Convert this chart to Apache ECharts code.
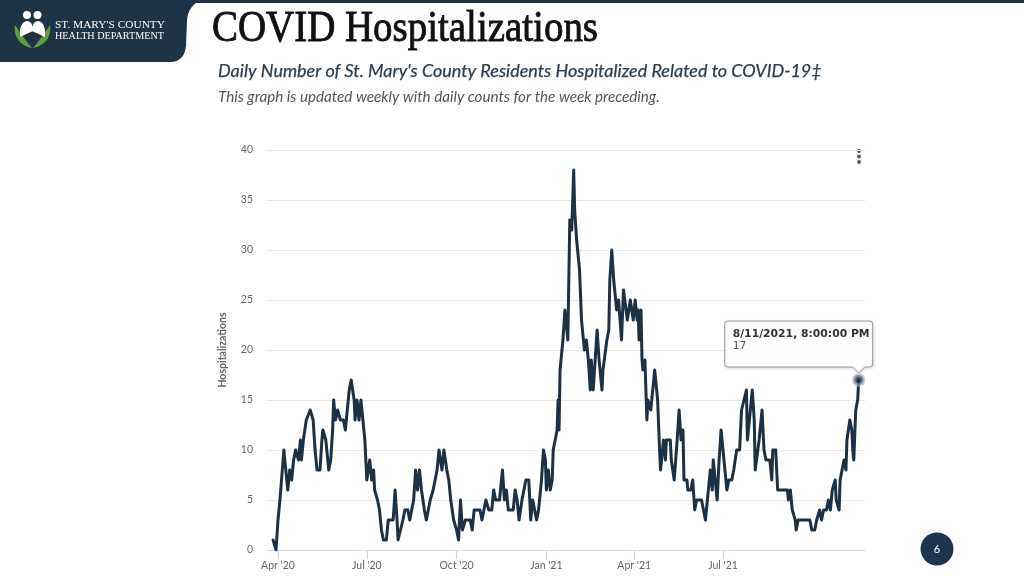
<!DOCTYPE html>
<html><head><meta charset="utf-8">
<script src="https://cdn.jsdelivr.net/npm/echarts@6/dist/echarts.min.js"></script>
<style>html,body{margin:0;padding:0;background:#fff;}#c{width:1024px;height:576px;}</style>
</head><body><div id="c"></div>
<script>
// Days (as placed on the axis, counted from the "Apr '20" tick) and daily hospitalizations
const dayOffsets = [
  -5,-3,-2,0,2,3,6,10,12,14,
  16,18,21,23,24,26,29,31,33,36,
  38,40,43,45,46,49,52,54,56,57,
  59,61,64,67,69,71,73,75,77,78,
  79,81,83,85,87,89,91,94,96,98,
  99,102,104,106,108,111,113,118,120,122,
  123,125,128,130,133,135,137,139,141,143,
  145,147,150,152,156,159,161,163,165,168,
  170,173,175,177,180,183,185,187,189,192,
  197,199,201,207,209,211,213,216,219,221,
  223,227,228,230,232,234,236,241,243,245,
  247,250,252,254,257,259,261,263,265,267,
  270,272,274,275,277,279,281,282,284,286,
  287,288,289,291,292,294,296,297,299,301,
  303,304,306,309,310,311,314,316,318,320,
  321,323,325,327,329,332,333,335,337,339,
  340,342,344,345,347,349,352,354,356,358,
  361,362,364,366,368,369,370,372,373,374,
  376,378,379,382,384,386,389,391,392,395,
  397,398,402,403,406,409,411,413,415,416,
  419,420,423,425,427,429,434,436,438,441,
  443,445,446,448,450,452,454,456,458,460,
  462,465,467,470,473,475,477,480,481,484,
  486,488,489,491,493,496,498,500,504,506,
  507,510,512,522,523,525,527,530,531,533,
  545,547,550,552,555,557,559,562,564,566,
  568,571,572,575,576,578,580,582,583,586,
  588,589,590,592,594,595
];
const hospitalizations = [
  1,1,0,3,5,5,10,6,8,7,
  9,10,9,11,9,11,13,13,14,13,
  10,8,8,11,12,11,8,9,12,15,
  13,14,13,13,12,14,16,17,17,15,
  13,15,13,15,15,11,7,9,7,8,
  6,5,4,2,1,1,3,3,6,3,
  1,1,3,4,4,3,4,5,8,6,
  8,6,4,3,5,6,6,8,10,8,
  10,8,7,5,3,2,1,5,2,3,
  3,2,4,4,3,4,5,4,4,6,
  5,5,6,8,5,6,4,4,6,5,
  3,5,6,7,7,3,5,5,3,4,
  7,10,9,6,8,6,7,10,11,12,
  15,12,18,20,21,24,22,21,33,32,
  38,34,31,28,28,23,20,21,19,16,
  19,16,19,22,19,16,18,18,21,22,
  27,30,27,26,24,25,21,26,26,23,
  25,25,23,25,23,24,21,24,19,18,
  19,13,15,14,16,18,15,10,8,11,
  9,11,11,9,7,11,14,11,12,7,
  7,6,6,7,4,5,5,4,3,6,
  8,6,9,7,5,9,12,10,8,6,
  7,7,8,10,10,14,14,16,11,14,
  16,13,8,8,11,14,10,9,9,7,
  10,10,6,6,5,6,4,3,2,3,
  3,2,2,3,4,3,4,4,5,4,
  6,7,5,4,7,8,9,8,11,13,
  12,10,9,14,15,17
];
const tickDays = [0, 91, 183, 275, 365, 456];
const tickLabels = ["Apr '20", "Jul '20", "Oct '20", "Jan '21", "Apr '21", "Jul '21"];
const tooltipDate = '8/11/2021, 8:00:00 PM';
const pageTitle = 'COVID Hospitalizations';
const chartTitle = "Daily Number of St. Mary's County Residents Hospitalized Related to COVID-19\u2021";
const chartSubtitle = 'This graph is updated weekly with daily counts for the week preceding.';
const orgLine1 = "ST. MARY'S COUNTY";
const orgLine2 = 'HEALTH DEPARTMENT';
const pageNumber = '6';

const seriesData = dayOffsets.map((d, i) => [d, hospitalizations[i]]);
const lastPoint = seriesData[seriesData.length - 1];

const navy = '#1e3346';
const lineColor = '#1c3144';

const mctx = document.createElement('canvas').getContext('2d');
function measure(text, font) { mctx.font = font; return mctx.measureText(text).width; }

const chart = echarts.init(document.getElementById('c'), null, { renderer: 'canvas' });

const titleFont = '45px "Liberation Serif"';
const titleScale = 386 / measure(pageTitle, titleFont);
const s1 = 20 * 604 / measure(chartTitle, 'italic 20px Lato');
const s2 = 20 * 442 / measure(chartSubtitle, 'italic 20px Lato');
const o1 = 110 / measure(orgLine1, '11px "Liberation Serif"');
const o2 = 109 / measure(orgLine2, '9.5px "Liberation Serif"');

const headerGraphics = [
  { type: 'rect', shape: { x: 0, y: 0, width: 1024, height: 3 }, style: { fill: navy }, silent: true },
  { type: 'circle', shape: { cx: 27, cy: 15, r: 4 }, style: { fill: '#fff' }, z: 10 },
  { type: 'circle', shape: { cx: 37.5, cy: 15, r: 4 }, style: { fill: '#fff' }, z: 10 },
  { type: 'text', z: 10, x: 55, y: 25, scaleX: o1, style: { text: orgLine1, font: '11px "Liberation Serif"', fill: '#fff', verticalAlign: 'middle' } },
  { type: 'text', z: 10, x: 55, y: 36.5, scaleX: o2, style: { text: orgLine2, font: '9.5px "Liberation Serif"', fill: '#fff', verticalAlign: 'middle' } },
  { type: 'text', x: 212, y: 29, scaleX: titleScale, style: { text: pageTitle, font: titleFont, fill: '#111', stroke: '#111', lineWidth: 0.9, verticalAlign: 'middle' } },
  { type: 'text', x: 218, y: 71, style: { text: chartTitle, font: 'italic ' + s1.toFixed(2) + 'px Lato', fill: '#2b3d50', stroke: '#2b3d50', lineWidth: 0.25, verticalAlign: 'middle' } },
  { type: 'text', x: 218, y: 97, style: { text: chartSubtitle, font: 'italic ' + s2.toFixed(2) + 'px Lato', fill: '#555', verticalAlign: 'middle' } },
  { type: 'circle', shape: { cx: 859, cy: 151, r: 1.9 }, style: { fill: '#555' } },
  { type: 'circle', shape: { cx: 859, cy: 156.5, r: 1.9 }, style: { fill: '#555' } },
  { type: 'circle', shape: { cx: 859, cy: 162, r: 1.9 }, style: { fill: '#555' } },
  { type: 'circle', shape: { cx: 937, cy: 549, r: 16.5 }, style: { fill: '#1d3550' } },
  { type: 'text', x: 937, y: 549, style: { text: pageNumber, font: '11px Lato', fill: '#fff', align: 'center', verticalAlign: 'middle' } }
];

const option = {
  animation: false,
  backgroundColor: '#fff',
  grid: { left: 267, right: 159, top: 150, bottom: 26 },
  xAxis: {
    type: 'value', min: -11.27, max: 601.5,
    axisLine: { show: true, lineStyle: { color: '#ccd6eb', width: 1 } },
    axisTick: { show: true, customValues: tickDays, length: 9, lineStyle: { color: '#ccd6eb' } },
    axisLabel: {
      customValues: tickDays, margin: 10, color: '#666', fontSize: 10.5, fontFamily: 'Lato',
      formatter: v => { const i = tickDays.indexOf(v); return i >= 0 ? tickLabels[i] : ''; }
    },
    splitLine: { show: false }
  },
  yAxis: {
    type: 'value', min: 0, max: 40, interval: 5,
    name: 'Hospitalizations', nameLocation: 'middle', nameGap: 39, nameRotate: 90,
    nameTextStyle: { color: '#666', fontSize: 10.5, fontWeight: 'bold', fontFamily: 'Lato' },
    axisLine: { show: false }, axisTick: { show: false },
    axisLabel: { color: '#666', fontSize: 10.5, fontFamily: 'Lato', margin: 14 },
    splitLine: { lineStyle: { color: '#e6e6e6', width: 1 } }
  },
  series: [
    {
      type: 'line', data: seriesData, symbol: 'none', smooth: false,
      lineStyle: { color: lineColor, width: 3, join: 'round', cap: 'round' },
      itemStyle: { color: lineColor }, silent: true
    },
    {
      type: 'scatter', data: [lastPoint], symbolSize: 10, z: 5,
      itemStyle: { color: lineColor, borderColor: 'rgba(170,178,188,0.75)', borderWidth: 3.5 }, silent: true
    }
  ],
  graphic: headerGraphics
};
chart.setOption(option);

const zr = chart.getZr();
function addPath(d, style, z) {
  const el = echarts.graphic.makePath(d, { style: style, silent: true });
  el.z = z || 0;
  el.zlevel = 0;
  zr.add(el);
  return el;
}
// banner and logo
addPath('M0,0 L202,0 C193,3 188,10 187,20 L186,46 C185,56 180,62 170,62 L0,62 Z', { fill: navy }, 1);
addPath('M15,25 C13,36 20,46 32,48 C27,42 21,34 15,25 Z', { fill: '#5e9e3e' }, 2);
addPath('M50,25 C52,36 45,46 33,48 C38,42 44,34 50,25 Z', { fill: '#5e9e3e' }, 2);
addPath('M20,37 Q19,22 27,21 Q33,21 33,31 Q28,33 20,37 Z', { fill: '#fff' }, 2);
addPath('M45,37 Q46,22 38,21 Q32,21 32,31 Q37,33 45,37 Z', { fill: '#fff' }, 2);

// tooltip callout anchored to the last data point
const p = chart.convertToPixel({ xAxisIndex: 0, yAxisIndex: 0 }, lastPoint);
const bx = p[0] - 134, by = p[1] - 59, bw = 148, bh = 46, r = 3;
const ax = p[0], ay = p[1] - 7;
const pathData = `M${bx + r},${by} L${bx + bw - r},${by} Q${bx + bw},${by} ${bx + bw},${by + r} L${bx + bw},${by + bh - r} Q${bx + bw},${by + bh} ${bx + bw - r},${by + bh} L${ax + 6},${by + bh} L${ax},${ay} L${ax - 6},${by + bh} L${bx + r},${by + bh} Q${bx},${by + bh} ${bx},${by + bh - r} L${bx},${by + r} Q${bx},${by} ${bx + r},${by} Z`;
addPath(pathData, { fill: 'rgba(255,255,255,0.96)', stroke: '#9a9a9a', lineWidth: 1, shadowBlur: 3, shadowColor: 'rgba(0,0,0,0.15)', shadowOffsetX: 1, shadowOffsetY: 1 }, 100);
const t1 = new echarts.graphic.Text({ x: bx + 8, y: by + 13, z: 101, silent: true, style: { text: tooltipDate, font: 'bold 10.8px "DejaVu Sans"', fill: '#333', verticalAlign: 'middle' } });
const t2 = new echarts.graphic.Text({ x: bx + 8, y: by + 25, z: 101, silent: true, style: { text: String(lastPoint[1]), font: '10.8px "DejaVu Sans"', fill: '#555', verticalAlign: 'middle' } });
zr.add(t1); zr.add(t2);
</script></body></html>
